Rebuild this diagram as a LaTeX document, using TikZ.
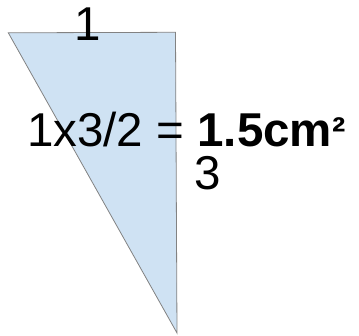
\documentclass[tikz,border=0pt]{standalone}
\usepackage{xcolor}
\usepackage{fontspec}
\setmainfont{Liberation Sans}
\usepackage{tikz}
\usetikzlibrary{positioning, calc}
\definecolor{myblue}{RGB}{207,226,243}
\definecolor{mygrayline}{RGB}{130,130,130}
\tikzset{
  tri/.style={draw=mygrayline, fill=myblue, line width=0.8pt, line join=miter},
  lbl/.style={inner sep=0pt, font=\fontsize{47.5}{52}\selectfont, text=black}
}

\begin{document}
\begin{tikzpicture}[x=1pt, y=-1pt]
  % Canvas
  \useasboundingbox (0,0) rectangle (359,336);

  % Triangle corners
  \coordinate (tl) at (8.3,32.8);
  \coordinate (tr) at (175.5,32.3);
  \coordinate (bt) at (177,333);
  \draw[tri] (tl) -- (tr) -- (bt) -- cycle;

  % Side labels
  \node[lbl, anchor=base] (top) at (88,41) {1};
  \node[lbl, anchor=base] (side) at (208,190) {3};

  % Area formula
  \node[lbl, anchor=base west] (area) at (27,147) {1x3/2 = \textbf{1.5cm\raisebox{1pt}{\fontsize{40}{44}\selectfont²}}};
\end{tikzpicture}
\end{document}
